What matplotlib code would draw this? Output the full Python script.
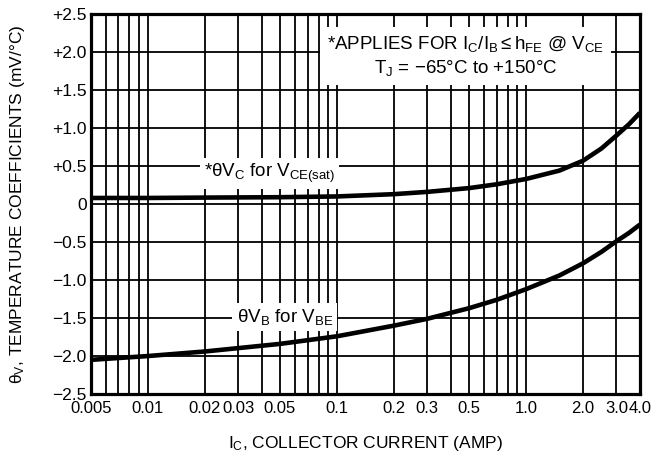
import matplotlib
matplotlib.use("Agg")
import matplotlib.pyplot as plt
import numpy as np

plt.rcParams['font.family'] = ['Liberation Sans', 'DejaVu Sans']
plt.rcParams['mathtext.fontset'] = 'custom'
plt.rcParams['mathtext.rm'] = 'Liberation Sans'
plt.rcParams['mathtext.it'] = 'Liberation Sans'

# data
ic_vc = [0.005, 0.01, 0.02, 0.05, 0.1, 0.2, 0.3, 0.5, 0.7, 1.0, 1.5, 2.0, 2.5, 3.0, 3.5, 4.0]
theta_vc = [0.08, 0.08, 0.085, 0.09, 0.10, 0.13, 0.16, 0.21, 0.26, 0.33, 0.44, 0.57, 0.73, 0.90, 1.05, 1.20]

ic_vb = [0.005, 0.01, 0.02, 0.05, 0.1, 0.2, 0.3, 0.5, 0.7, 1.0, 1.5, 2.0, 2.5, 3.0, 3.5, 4.0]
theta_vb = [-2.05, -2.0, -1.94, -1.84, -1.74, -1.60, -1.51, -1.37, -1.26, -1.12, -0.94, -0.78, -0.63, -0.49, -0.38, -0.27]

xtick_vals = [0.005, 0.01, 0.02, 0.03, 0.05, 0.1, 0.2, 0.3, 0.5, 1.0, 2.0, 3.0, 4.0]
xtick_labels = ['0.005', '0.01', '0.02', '0.03', '0.05', '0.1', '0.2', '0.3', '0.5', '1.0', '2.0', '3.0', '4.0']
ytick_vals = [2.5, 2.0, 1.5, 1.0, 0.5, 0, -0.5, -1.0, -1.5, -2.0, -2.5]
ytick_labels = ['+2.5', '+2.0', '+1.5', '+1.0', '+0.5', '0', '\u22120.5', '\u22121.0', '\u22121.5', '\u22122.0', '\u22122.5']

fig = plt.figure(figsize=(6.68, 4.68), dpi=100)
ax = fig.add_axes([0.136, 0.158, 0.822, 0.812])

ax.set_xscale('log')
ax.set_xlim(0.005, 4.0)
ax.set_ylim(-2.5, 2.5)

# vertical grid at every 1..9 multiple
grid_x = []
for dec in [0.001, 0.01, 0.1, 1.0]:
    for m in range(1, 10):
        v = m * dec
        if 0.005 < v < 4.0:
            grid_x.append(v)
for v in grid_x:
    ax.axvline(v, color='black', lw=1.3, zorder=1)
for v in ytick_vals[1:-1]:
    ax.axhline(v, color='black', lw=1.3, zorder=1)

ax.plot(ic_vc, theta_vc, color='black', lw=3.3, zorder=4, solid_capstyle='butt')
ax.plot(ic_vb, theta_vb, color='black', lw=3.3, zorder=4, solid_capstyle='butt')

ax.set_xticks(xtick_vals)
ax.set_xticklabels(xtick_labels)
ax.xaxis.set_minor_locator(matplotlib.ticker.NullLocator())
ax.set_yticks(ytick_vals)
ax.set_yticklabels(ytick_labels)
ax.tick_params(length=0, labelsize=12.5)
ax.tick_params(axis='x', pad=5, labelsize=12)
ax.tick_params(axis='y', pad=3)

for s in ax.spines.values():
    s.set_linewidth(2.3)

ax.set_xlabel(r'I$\mathregular{_C}$, COLLECTOR CURRENT (AMP)', fontsize=12.5, labelpad=13)
ax.set_ylabel(r'$\mathregular{\theta_V}$, TEMPERATURE COEFFICIENTS (mV/°C)', fontsize=12.5, labelpad=18)

box = dict(facecolor='white', edgecolor='none', pad=3)
ax.text(0.044, 0.40, r'*$\mathregular{\theta V_C}$ for $\mathregular{V_{CE(sat)}}$', fontsize=13.5,
        ha='center', va='center', bbox=box, zorder=3)
ax.text(0.053, -1.49, r'$\mathregular{\theta V_B}$ for $\mathregular{V_{BE}}$', fontsize=13.5,
        ha='center', va='center', bbox=box, zorder=3)
ax.text(0.48, 1.95,
        r'*APPLIES FOR $\mathregular{I_C/I_B \leq h_{FE}}$ @ $\mathregular{V_{CE}}$' + '\n'
        + r'$\mathregular{T_J}$ = $-$65°C to +150°C',
        fontsize=13.5, ha='center', va='center', linespacing=1.3,
        bbox=dict(facecolor='white', edgecolor='none', pad=5), zorder=3)

fig.savefig('out.png', dpi=100)
